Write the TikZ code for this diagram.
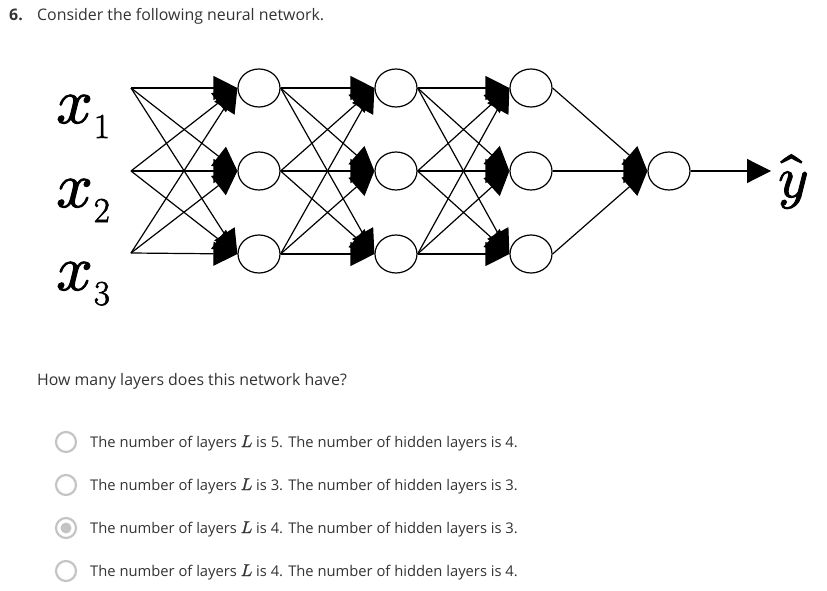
\documentclass[tikz,border=0pt]{standalone}
\usepackage[no-math]{fontspec}
\setmainfont{Open Sans}
\newfontfamily\lmroman[FakeBold=1.6]{Latin Modern Roman}
\newfontfamily\lmmath[FakeBold=1.6]{Latin Modern Math}
\newfontfamily\lmmathL[FakeBold=0.8]{Latin Modern Math}
\usetikzlibrary{arrows.meta,shapes.geometric}
\definecolor{textgray}{HTML}{333333}
\definecolor{radiogray}{HTML}{C4C4C4}
\newcommand{\myL}{{\lmmathL\fontsize{17}{18}\selectfont 𝐿}}
\begin{document}
\begin{tikzpicture}[x=1pt,y=-1pt,
 neuron/.style={draw, ellipse, minimum width=42pt, minimum height=38pt, inner sep=0pt, line width=1.2pt, fill=white},
 conn/.style={line width=1.2pt, -{Triangle[length=24pt,width=24pt]}},
 txt/.style={anchor=base west, inner sep=0pt, text=textgray, font=\fontsize{14.75}{18}\selectfont},
 radio/.style={draw=radiogray, line width=2.2pt, circle, minimum size=20pt, inner sep=0pt},
 lbl/.style={anchor=base west, inner sep=0pt}]
\useasboundingbox (0,0) rectangle (827,591);
% header
\node[txt, font=\fontsize{15.9}{18}\selectfont\bfseries] (num) at (9,21) {6.};
\node[txt, font=\fontsize{15.9}{18}\selectfont] (head) at (37,21) {Consider the following neural network.};
% inputs
\coordinate (in1) at (131,88);
\coordinate (in2) at (131,171);
\coordinate (in3) at (131,253);
\node[lbl] (x1) at (56,123) {\lmmath\fontsize{64}{64}\selectfont 𝑥\kern1pt\raisebox{-15pt}{\fontsize{35}{35}\selectfont\lmroman 1}};
\node[lbl] (x2) at (56,207) {\lmmath\fontsize{64}{64}\selectfont 𝑥\kern1pt\raisebox{-15pt}{\fontsize{35}{35}\selectfont\lmroman 2}};
\node[lbl] (x3) at (56,290) {\lmmath\fontsize{64}{64}\selectfont 𝑥\kern1pt\raisebox{-15pt}{\fontsize{35}{35}\selectfont\lmroman 3}};
% neurons
\foreach \i/\y in {1/88,2/171,3/254}{
  \node[neuron] (a\i) at (259,\y) {};
  \node[neuron] (b\i) at (396,\y) {};
  \node[neuron] (c\i) at (531,\y) {};
}
\node[neuron] (o) at (669,171) {};
\coordinate (tipY) at (771,171);
\node[lbl] (yhat) at (778,197) {\lmmath\fontsize{58}{58}\selectfont\^{𝑦}};
% connections
\foreach \i in {1,2,3}{
  \foreach \j in {1,2,3}{
    \draw[conn] (in\i) -- (a\j.west);
    \draw[conn] (a\i.east) -- (b\j.west);
    \draw[conn] (b\i.east) -- (c\j.west);
  }
  \draw[conn] (c\i.east) -- (o.west);
}
\draw[conn] (o.east) -- (tipY);
% question
\node[txt, font=\fontsize{15.9}{18}\selectfont] (q) at (37,385) {How many layers does this network have?};
% options
\node[radio] (r1) at (66,442) {};
\node[radio] (r2) at (66,485) {};
\node[radio] (r3) at (66,528) {};
\node[radio] (r4) at (66,571) {};
\fill[radiogray] (r3.center) circle (5.5pt);
\node[txt] (t1) at (90,447) {The number of layers \myL{} is 5. The number of hidden layers is 4.};
\node[txt] (t2) at (90,490) {The number of layers \myL{} is 3. The number of hidden layers is 3.};
\node[txt] (t3) at (90,533) {The number of layers \myL{} is 4. The number of hidden layers is 3.};
\node[txt] (t4) at (90,576) {The number of layers \myL{} is 4. The number of hidden layers is 4.};
\end{tikzpicture}
\end{document}
